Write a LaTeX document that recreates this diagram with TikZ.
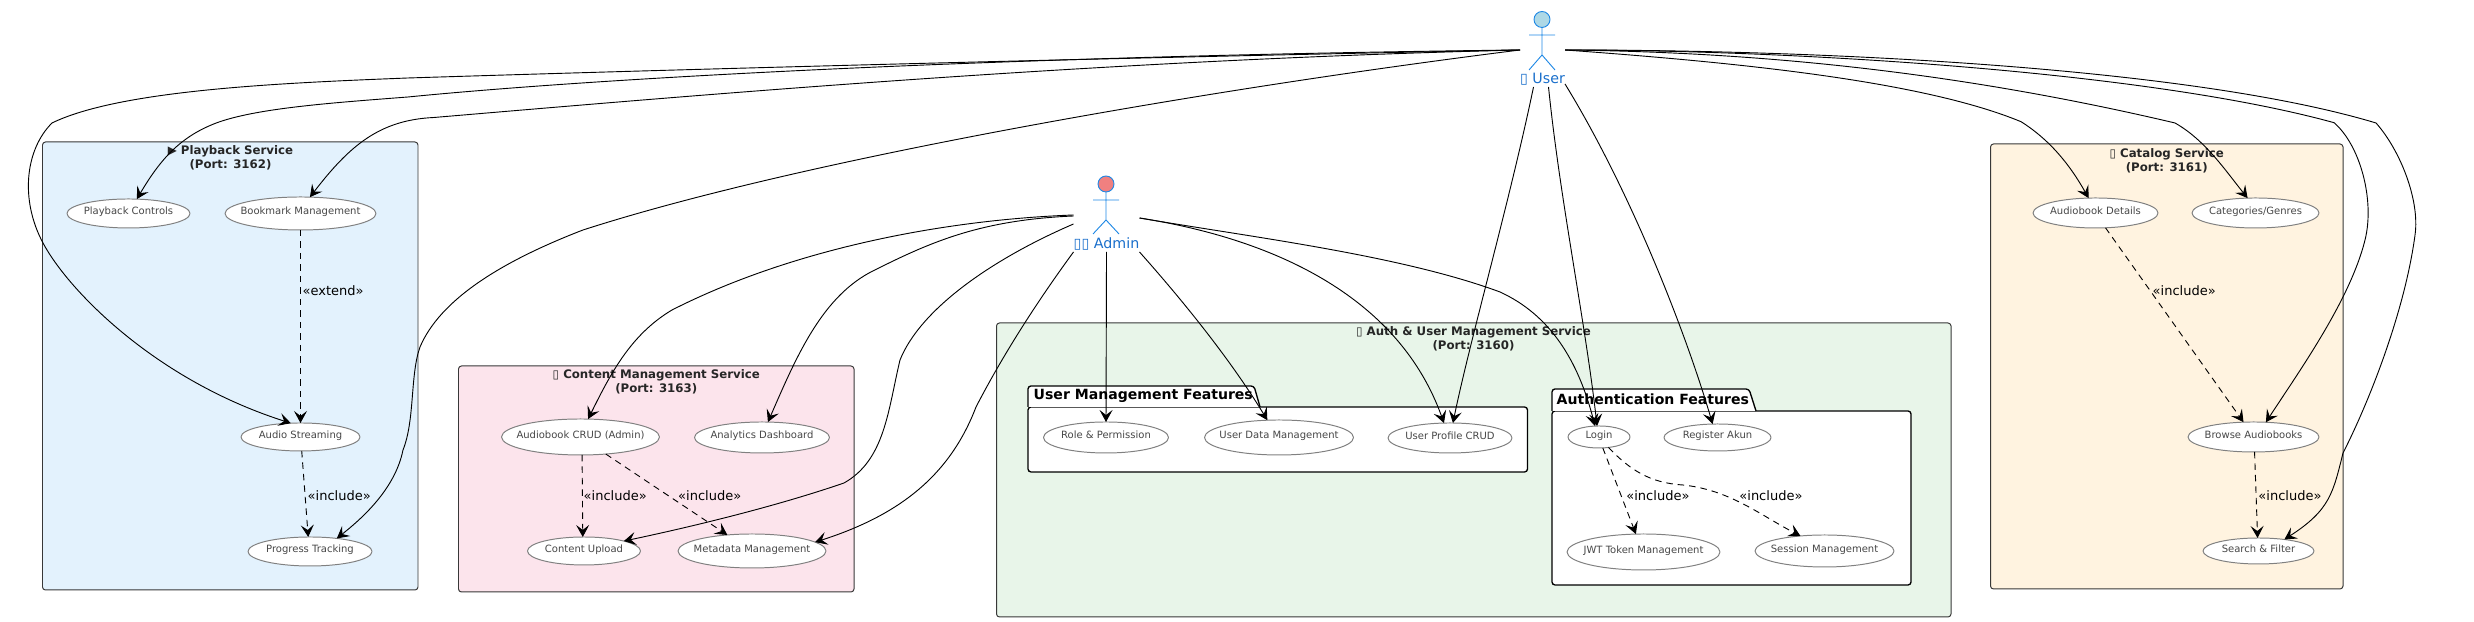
\documentclass[tikz,border=0pt]{standalone}
\usepackage{fontspec}
\setmainfont{DejaVu Sans}
\usetikzlibrary{arrows.meta, shapes.geometric}
\definecolor{playbackBg}{HTML}{E3F2FD}
\definecolor{contentBg}{HTML}{FCE4EC}
\definecolor{authBg}{HTML}{E8F5E9}
\definecolor{catalogBg}{HTML}{FFF3E0}
\definecolor{actorLine}{HTML}{1E88E5}
\definecolor{actorText}{HTML}{1A6FCB}
\definecolor{userHead}{HTML}{ADD8E6}
\definecolor{adminHead}{HTML}{F08080}
\newcommand{\uctext}[1]{\smash{\makebox[0pt]{\raisebox{-.15mm}{#1}}}}
\tikzset{
	svcbox/.style={draw=black!78, line width=.28pt, rounded corners=.03cm, inner sep=0pt, outer sep=0pt},
	svctitle/.style={align=center, text=black!85, font=\bfseries\fontsize{3.35}{3.98}\selectfont},
	pkgbody/.style={draw=black, fill=white, line width=.38pt, rounded corners=.03cm, inner sep=0pt, outer sep=0pt},
	pkgtab/.style={draw=black, fill=white, line width=.38pt, rounded corners=.03cm},
	pkgtitle/.style={anchor=west, inner sep=0pt, font=\bfseries\fontsize{4}{4.6}\selectfont},
	usecase/.style={ellipse, draw=black!50, fill=white, line width=.28pt, inner sep=0pt, outer sep=0pt,
		text=black!72, font=\fontsize{2.85}{3.4}\selectfont},
	relabel/.style={anchor=west, inner sep=0pt, font=\fontsize{3.7}{4.4}\selectfont},
	actorbox/.style={inner sep=0pt, outer sep=0pt},
	actorlabel/.style={text=actorText, inner sep=0pt, font=\fontsize{4.05}{4.6}\selectfont},
	actorfig/.style={draw=actorLine, line width=.26pt},
	conn/.style={->, line width=.26pt},
	incl/.style={->, line width=.26pt, dash pattern=on .065cm off .05cm},
}

\begin{document}
\begin{tikzpicture}[>={Stealth[length=.12cm,width=.13cm,inset=.05cm]}, line join=round]
\useasboundingbox (0,0) rectangle (24.74,-6.22);

% ================= Service boxes =================
\node[svcbox, fill=playbackBg, minimum width=3.755cm, minimum height=4.48cm] (playback) at (2.3025,-3.66) {};
\node[svcbox, fill=contentBg, minimum width=3.955cm, minimum height=2.26cm] (content) at (6.5625,-4.79) {};
\node[svcbox, fill=authBg, minimum width=9.545cm, minimum height=2.94cm] (auth) at (14.7375,-4.70) {};
\node[svcbox, fill=catalogBg, minimum width=3.525cm, minimum height=4.45cm] (catalog) at (21.6675,-3.665) {};

\node[svctitle] (playbackTitle) at (2.305,-1.58) {▶ Playback Service\\(Port: 3162)};
\node[svctitle] (contentTitle) at (6.5625,-3.82) {▯ Content Management Service\\(Port: 3163)};
\node[svctitle] (authTitle) at (14.735,-3.39) {▯ Auth \& User Management Service\\(Port: 3160)};
\node[svctitle] (catalogTitle) at (21.667,-1.61) {▯ Catalog Service\\(Port: 3161)};

% ================= Packages =================
\node[pkgbody, minimum width=4.995cm, minimum height=.65cm] (umBody) at (12.7775,-4.395) {};
\draw[pkgtab] (umBody.north west) -- ++(0,.21) -- ++(2.26,0) -- ++(.06,-.21);
\node[pkgtitle] (umTitle) at (10.33,-3.955) {User Management Features};

\node[pkgbody, minimum width=3.59cm, minimum height=1.74cm] (afBody) at (17.315,-4.98) {};
\draw[pkgtab] (afBody.north west) -- ++(0,.22) -- ++(1.97,0) -- ++(.07,-.22);
\node[pkgtitle] (afTitle) at (15.56,-3.995) {Authentication Features};

% ================= Use cases =================
\node[usecase, minimum width=1.23cm, minimum height=.29cm] (pbControls) at (1.285,-2.135) {\uctext{Playback Controls}};
\node[usecase, minimum width=1.51cm, minimum height=.33cm] (pbBookmark) at (3.005,-2.135) {\uctext{Bookmark Management}};
\node[usecase, minimum width=1.19cm, minimum height=.28cm] (pbAudio) at (3.005,-4.37) {\uctext{Audio Streaming}};
\node[usecase, minimum width=1.24cm, minimum height=.29cm] (pbProgress) at (3.10,-5.515) {\uctext{Progress Tracking}};

\node[usecase, minimum width=1.58cm, minimum height=.36cm] (ctCrud) at (5.805,-4.37) {\uctext{Audiobook CRUD (Admin)}};
\node[usecase, minimum width=1.35cm, minimum height=.31cm] (ctAnalytics) at (7.62,-4.375) {\uctext{Analytics Dashboard}};
\node[usecase, minimum width=1.13cm, minimum height=.28cm] (ctUpload) at (5.84,-5.51) {\uctext{Content Upload}};
\node[usecase, minimum width=1.48cm, minimum height=.34cm] (ctMetadata) at (7.52,-5.51) {\uctext{Metadata Management}};

\node[usecase, minimum width=1.25cm, minimum height=.31cm] (umRole) at (11.06,-4.375) {\uctext{Role \& Permission}};
\node[usecase, minimum width=1.49cm, minimum height=.35cm] (umData) at (12.79,-4.375) {\uctext{User Data Management}};
\node[usecase, minimum width=1.24cm, minimum height=.30cm] (umProfile) at (14.50,-4.38) {\uctext{User Profile CRUD}};

\node[usecase, minimum width=.62cm, minimum height=.22cm] (afLogin) at (15.99,-4.37) {\uctext{Login}};
\node[usecase, minimum width=1.07cm, minimum height=.27cm] (afRegister) at (17.175,-4.375) {\uctext{Register Akun}};
\node[usecase, minimum width=1.53cm, minimum height=.36cm] (afJwt) at (16.435,-5.52) {\uctext{JWT Token Management}};
\node[usecase, minimum width=1.39cm, minimum height=.32cm] (afSession) at (18.245,-5.51) {\uctext{Session Management}};

\node[usecase, minimum width=1.25cm, minimum height=.30cm] (catDetails) at (20.955,-2.13) {\uctext{Audiobook Details}};
\node[usecase, minimum width=1.27cm, minimum height=.30cm] (catGenres) at (22.555,-2.13) {\uctext{Categories/Genres}};
\node[usecase, minimum width=1.31cm, minimum height=.30cm] (catBrowse) at (22.535,-4.37) {\uctext{Browse Audiobooks}};
\node[usecase, minimum width=1.11cm, minimum height=.26cm] (catSearch) at (22.585,-5.51) {\uctext{Search \& Filter}};

% ================= Actors =================
\node[actorbox, minimum width=.45cm, minimum height=.74cm] (user) at (15.425,-.50) {};
\node[actorlabel] (userLabel) at (15.425,-.79) {▯ User};
\draw[actorfig, fill=userHead] (15.42,-.195) circle (.08);
\draw[actorfig] (15.42,-.275) -- (15.42,-.55) (15.29,-.35) -- (15.55,-.35)
	(15.29,-.70) -- (15.42,-.55) -- (15.55,-.70);

\node[actorbox, minimum width=.66cm, minimum height=.68cm] (admin) at (11.065,-2.18) {};
\node[actorlabel] (adminLabel) at (11.065,-2.44) {▯▯ Admin};
\draw[actorfig, fill=adminHead] (11.06,-1.84) circle (.08);
\draw[actorfig] (11.06,-1.92) -- (11.06,-2.20) (10.93,-2.00) -- (11.19,-2.00)
	(10.93,-2.34) -- (11.06,-2.20) -- (11.19,-2.34);

% ================= User connectors =================
\draw[conn] (user.west) .. controls (10,-.60) and (6,-.72) .. (4.08,-.78)
	.. controls (2.8,-.83) and (1.2,-.90) .. (.52,-1.23)
	.. controls (.25,-1.5) and (.2,-2.0) .. (.43,-2.43)
	.. controls (.68,-2.9) and (1.55,-3.8) .. (pbAudio.125);
\draw[conn] (user.west) .. controls (10,-.56) and (6,-.78) .. (4.08,-.97)
	.. controls (3.3,-1.03) and (2.6,-1.08) .. (2.19,-1.22)
	.. controls (1.8,-1.36) and (1.6,-1.6) .. (pbControls.60);
\draw[conn] (user.west) .. controls (11,-.6) and (7,-.95) .. (4.34,-1.175)
	.. controls (3.8,-1.2) and (3.5,-1.45) .. (pbBookmark.60);
\draw[conn] (user.west) .. controls (12,-.9) and (8,-1.6) .. (5.83,-2.30)
	.. controls (5.0,-2.62) and (4.4,-3.0) .. (4.2,-3.47)
	.. controls (4.1,-3.75) and (4.15,-4.2) .. (4.03,-4.5)
	.. controls (3.95,-4.9) and (3.6,-5.2) .. (pbProgress.26);

\draw[conn] ([xshift=-.09cm]user.south) .. controls (15.1,-2.0) and (14.7,-3.4) .. (umProfile.79);
\draw[conn] ([xshift=.06cm]user.south) .. controls (15.6,-2.0) and (15.85,-3.2) .. (afLogin.100);
\draw[conn] ([yshift=.03cm]user.south east) .. controls (16.3,-1.9) and (16.85,-3.3) .. (afRegister.110);

\draw[conn] (user.east) .. controls (17.3,-.62) and (19.2,-.8) .. (20.21,-1.217)
	.. controls (20.5,-1.4) and (20.7,-1.65) .. (catDetails.115);
\draw[conn] (user.east) .. controls (17.5,-.52) and (19.5,-.70) .. (21.75,-1.23)
	.. controls (22.05,-1.4) and (22.25,-1.7) .. (catGenres.118);
\draw[conn] (user.east) .. controls (18,-.5) and (21.5,-.72) .. (23.34,-1.227)
	.. controls (23.6,-1.45) and (23.75,-2.0) .. (23.65,-2.4)
	.. controls (23.5,-3.0) and (23.0,-3.7) .. (catBrowse.50);
\draw[conn] (user.east) .. controls (18.5,-.5) and (22,-.7) .. (23.76,-1.23)
	.. controls (24.0,-1.5) and (24.2,-2.0) .. (24.15,-2.35)
	.. controls (24.05,-3.1) and (23.7,-4.0) .. (23.43,-4.53)
	.. controls (23.33,-4.93) and (23.3,-5.1) .. (catSearch.24);

% ================= Admin connectors =================
\draw[conn] ([yshift=.03cm]admin.west) .. controls (9.4,-2.2) and (7.9,-2.5) .. (6.72,-3.10)
	.. controls (6.3,-3.35) and (6.1,-3.75) .. (ctCrud.67);
\draw[conn] ([yshift=.02cm]admin.west) .. controls (9.8,-2.2) and (9.3,-2.42) .. (8.69,-2.73)
	.. controls (8.2,-3.0) and (7.95,-3.6) .. (ctAnalytics.69);
\draw[conn] ([yshift=-.06cm]admin.west) .. controls (9.9,-2.6) and (9.2,-3.1) .. (9.0,-3.6)
	.. controls (8.88,-4.1) and (8.85,-4.6) .. (8.44,-4.83)
	.. controls (7.8,-5.05) and (7,-5.25) .. (ctUpload.14);
\draw[conn] (admin.south west) .. controls (10.2,-3.25) and (9.9,-3.8) .. (9.76,-4.07)
	.. controls (9.5,-4.75) and (9.0,-5.15) .. (ctMetadata.8);
\draw[conn] (admin.south) -- (umRole.north);
\draw[conn] (admin.south east) .. controls (12.0,-3.2) and (12.4,-3.75) .. (umData.124);
\draw[conn] (admin.east) .. controls (12.8,-2.40) and (14.0,-3.0) .. (umProfile.112);
\draw[conn] (admin.east) .. controls (12.5,-2.37) and (14,-2.55) .. (15,-2.92)
	.. controls (15.5,-3.15) and (15.78,-3.6) .. (afLogin.110);

% ================= Include / extend =================
\draw[incl] (pbBookmark.south) -- (pbAudio.north);
\node[relabel] (extendLbl) at (3.02,-2.907) {«extend»};
\draw[incl] (pbAudio.-85) -- (pbProgress.97);
\node[relabel] (inclProgress) at (3.07,-4.957) {«include»};

\draw[incl] (ctCrud.-85) -- (ctUpload.95);
\node[relabel] (inclUpload) at (5.83,-4.96) {«include»};
\draw[incl] (ctCrud.-34) -- (ctMetadata.147);
\node[relabel] (inclMetadata) at (6.775,-4.96) {«include»};

\draw[incl] (afLogin.-71) -- (afJwt.113);
\node[relabel] (inclJwt) at (16.257,-4.957) {«include»};
\draw[incl] (afLogin.-48) .. controls (16.3,-4.7) and (16.5,-4.83) .. (16.83,-4.85)
	.. controls (17.3,-4.9) and (17.6,-5.15) .. (afSession.148);
\node[relabel] (inclSession) at (17.387,-4.957) {«include»};

\draw[incl] (catDetails.-56) -- (catBrowse.124);
\node[relabel] (inclBrowse) at (21.52,-2.907) {«include»};
\draw[incl] (catBrowse.-86) -- (catSearch.94);
\node[relabel] (inclSearch) at (22.577,-4.957) {«include»};

\end{tikzpicture}
\end{document}
